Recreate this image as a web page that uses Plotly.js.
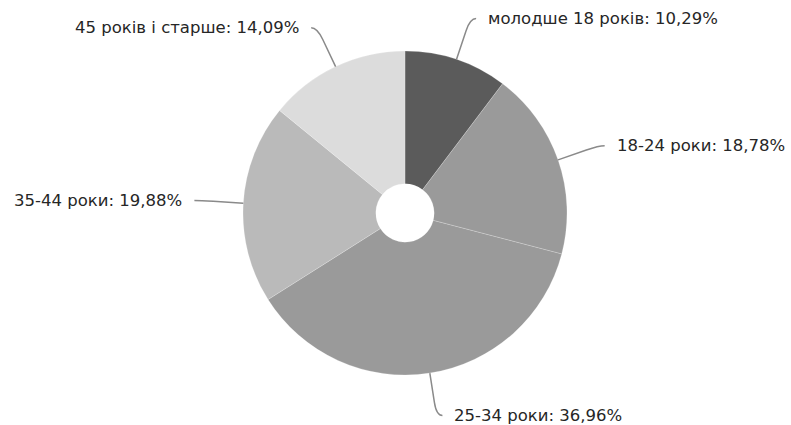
<!DOCTYPE html>
<html>
<head>
<meta charset="utf-8">
<script src="https://cdn.plot.ly/plotly-3.0.1.min.js"></script>
<style>html,body{margin:0;padding:0;background:#fff;}#chart{width:791px;height:425px;}</style>
</head>
<body>
<div id="chart"></div>
<script>
const categories = ['молодше 18 років', '18-24 роки', '25-34 роки', '35-44 роки', '45 років і старше'];
const shares = [10.29, 18.78, 36.96, 19.88, 14.09];
const sliceColors = ['#5b5b5b', '#9a9a9a', '#9a9a9a', '#bababa', '#dcdcdc'];

const W = 791, H = 425;
const cx = 405, cy = 213, R = 162;
const FONT = 'DejaVu Sans, Verdana, sans-serif';

const total = shares.reduce((a, b) => a + b, 0);
const annotations = [];
const shapes = [];
let cum = 0;
function pt(r, ang) {
  return [cx + r * Math.sin(ang), cy - r * Math.cos(ang)];
}
function px(p) { return (p[0] / W).toFixed(5) + ',' + (1 - p[1] / H).toFixed(5); }
shares.forEach((v, i) => {
  const mid = (cum + v / 2) / total * 2 * Math.PI;
  cum += v;
  const right = Math.sin(mid) >= 0;
  const s = right ? 1 : -1;
  const p0 = pt(R, mid);
  const p1 = pt(R + 30, mid);
  const p2 = pt(R + 43, mid);
  const p3 = [p2[0] + s * 6, p2[1]];
  shapes.push({
    type: 'path', xref: 'paper', yref: 'paper',
    path: 'M' + px(p0) + ' L' + px(p1) + ' Q' + px(p2) + ' ' + px(p3),
    line: {color: '#8a8a8a', width: 1.5}
  });
  annotations.push({
    xref: 'paper', yref: 'paper',
    x: (p3[0] + s * 10) / W, y: 1 - p3[1] / H,
    xanchor: right ? 'left' : 'right', yanchor: 'middle',
    showarrow: false,
    text: categories[i] + ': ' + v.toFixed(2).replace('.', ',') + '%',
    font: {family: FONT, size: 16.5, color: '#262626'}
  });
});

const trace = {
  type: 'pie',
  labels: categories,
  values: shares,
  sort: false,
  direction: 'clockwise',
  rotation: 0,
  hole: 0.18,
  textinfo: 'none',
  hoverinfo: 'skip',
  showlegend: false,
  marker: {colors: sliceColors, line: {color: 'rgba(255,255,255,0.25)', width: 0.8}},
  domain: {x: [(cx - R) / W, (cx + R) / W], y: [1 - (cy + R) / H, 1 - (cy - R) / H]}
};

Plotly.newPlot('chart', [trace], {
  width: W, height: H,
  margin: {l: 0, r: 0, t: 0, b: 0},
  paper_bgcolor: '#fff',
  showlegend: false,
  annotations: annotations,
  shapes: shapes
}, {staticPlot: true});
</script>
</body>
</html>
